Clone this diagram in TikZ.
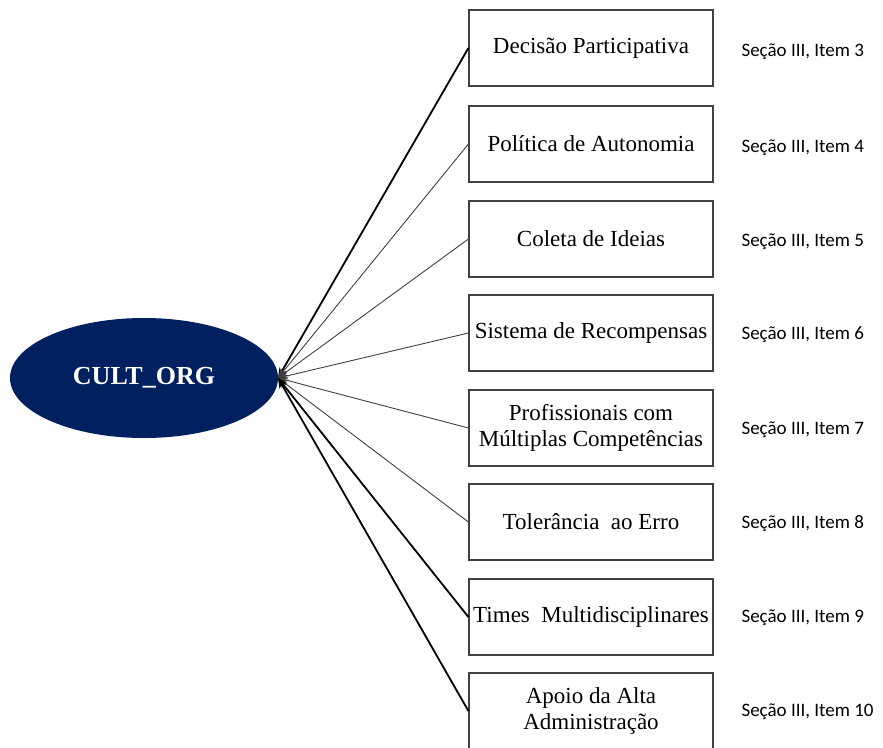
\documentclass[tikz,border=0pt]{standalone}
\usepackage{fontspec}
\setmainfont{Liberation Serif}
\newfontfamily\labelfont{Carlito}
\usetikzlibrary{arrows.meta,shapes.geometric}
\definecolor{navy}{RGB}{0,32,96}
\definecolor{edgegray}{RGB}{64,64,64}
\begin{document}
\begin{tikzpicture}[x=1pt,y=-1pt,
  itembox/.style={draw=edgegray,line width=1.2pt,minimum width=244pt,minimum height=76pt,
    align=center,font=\fontsize{23}{26}\selectfont,inner sep=2pt},
  ref/.style={anchor=west,font=\labelfont\fontsize{19}{22}\selectfont},
  strong/.style={line width=1.8pt,black,-{Stealth[length=10pt,width=8pt]}},
  weak/.style={line width=0.9pt,edgegray,-{Stealth[length=10pt,width=8pt]}}]
\useasboundingbox (0,0) rectangle (883,747);
\node[ellipse,fill=navy,minimum width=268pt,minimum height=120pt,inner sep=0pt,
  text=white,font=\bfseries\fontsize{26}{30}\selectfont] (cult) at (144,378) {CULT\_ORG};
\coordinate (tip) at (278,378);
% items
\node[itembox] (b1) at (591,48) {Decisão Participativa};
\node[itembox] (b2) at (591,144) {Política de Autonomia};
\node[itembox] (b3) at (591,239) {Coleta de Ideias};
\node[itembox] (b4) at (591,333) {Sistema de Recompensas};
\node[itembox] (b5) at (591,428) {Profissionais com\\Múltiplas Competências};
\node[itembox] (b6) at (591,522) {Tolerância\ \ ao Erro};
\node[itembox] (b7) at (591,617) {Times\ \ Multidisciplinares};
\node[itembox] (b8) at (591,711) {Apoio da Alta\\Administração};
% section references
\node[ref] (r1) at (738,52) {Seção III, Item 3};
\node[ref] (r2) at (738,148) {Seção III, Item 4};
\node[ref] (r3) at (738,242) {Seção III, Item 5};
\node[ref] (r4) at (738,335) {Seção III, Item 6};
\node[ref] (r5) at (738,430) {Seção III, Item 7};
\node[ref] (r6) at (738,524) {Seção III, Item 8};
\node[ref] (r7) at (738,618) {Seção III, Item 9};
\node[ref] (r8) at (738,712) {Seção III, Item 10};
% connectors
\draw[strong] (b1.west) -- (tip);
\draw[weak] (b2.west) -- (tip);
\draw[weak] (b3.west) -- (tip);
\draw[weak] (b4.west) -- (tip);
\draw[weak] (b5.west) -- (tip);
\draw[weak] (b6.west) -- (tip);
\draw[strong] (b7.west) -- (tip);
\draw[strong] (b8.west) -- (tip);
\end{tikzpicture}
\end{document}
